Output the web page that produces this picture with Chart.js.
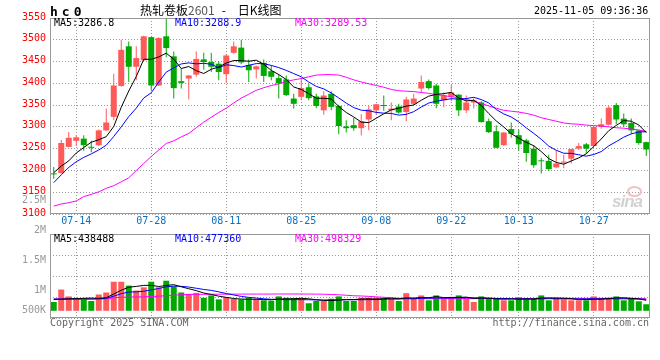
<!DOCTYPE html>
<html>
<head>
<meta charset="utf-8">
<script src="https://cdn.jsdelivr.net/npm/chart.js@4.4.0/dist/chart.umd.min.js"></script>
<style>
body { margin: 0; background: #fff; }
#box { position: relative; width: 660px; height: 360px; overflow: hidden;
       font-family: "DejaVu Sans Mono", monospace; font-size: 10px; line-height: 10px; }
#box canvas { position: absolute; left: 0; top: 0; }
.t { position: absolute; white-space: pre; }
.cn { font-family: "Noto Sans CJK SC", sans-serif; font-size: 12px; line-height: 12px; }
</style>
</head>
<body>
<div id="box">
  <canvas id="priceChart" width="660" height="360"></canvas>
  <canvas id="volumeChart" width="660" height="360"></canvas>

  <div class="t" style="left:50px;top:5px;font-weight:bold;font-size:13px;line-height:13px;letter-spacing:4px">hc0</div>
  <div class="t cn" style="left:140px;top:4px">热轧卷板<span style="color:#555">2601</span><span style="margin:0 12px 0 7px">-</span>日K线图</div>
  <div class="t" style="left:534px;top:6px">2025-11-05 09:36:36</div>

  <div class="t" style="left:54px;top:18px;color:#000">MA5:3286.8</div>
  <div class="t" style="left:175px;top:18px;color:#00f">MA10:3288.9</div>
  <div class="t" style="left:295px;top:18px;color:#f0f">MA30:3289.53</div>

  <div class="t" style="left:54px;top:234px;color:#000">MA5:438488</div>
  <div class="t" style="left:175px;top:234px;color:#00f">MA10:477360</div>
  <div class="t" style="left:295px;top:234px;color:#f0f">MA30:498329</div>

  <div style="position:absolute;left:627px;top:186px;width:11px;height:7px;border:2px solid #f2c2c2;border-radius:50%"></div>
  <div class="t" style="left:612px;top:195px;font:italic bold 17px 'Liberation Sans';line-height:14px;color:#d2d2d2;letter-spacing:-1px">sina</div>

  <div class="t" style="left:50px;top:318px;color:#666">Copyright 2025 SINA.COM</div>
  <div class="t" style="right:11px;top:318px;color:#666">http://finance.sina.com.cn</div>
</div>

<script>
// trading days shown on the chart
const dates = ['07-09','07-10','07-11','07-14','07-15','07-16','07-17','07-18','07-21','07-22','07-23','07-24','07-25','07-28','07-29','07-30','07-31',
    '08-01','08-04','08-05','08-06','08-07','08-08','08-11','08-12','08-13','08-14','08-15','08-18','08-19','08-20','08-21','08-22','08-25','08-26','08-27','08-28','08-29',
    '09-01','09-02','09-03','09-04','09-05','09-08','09-09','09-10','09-11','09-12','09-15','09-16','09-17','09-18','09-19','09-22','09-23','09-24','09-25','09-26','09-29','09-30',
    '10-09','10-10','10-13','10-14','10-15','10-16','10-17','10-20','10-21','10-22','10-23','10-24','10-27','10-28','10-29','10-30','10-31',
    '11-03','11-04','11-05'];
const tickDates = ['07-14','07-28','08-11','08-25','09-08','09-22','10-13','10-27'];

const opens = [3193,3194,3254,3268,3273,3254,3258,3292,3323,3394,
    3485,3438,3453,3506,3395,3508,3462,3405,3411,3420,
    3455,3449,3445,3421,3470,3482,3442,3432,3447,3428,
    3412,3409,3365,3369,3391,3370,3338,3376,3348,3301,
    3304,3297,3317,3338,3349,3338,3347,3334,3353,3388,
    3405,3395,3361,3369,3374,3338,3356,3356,3313,3290,
    3258,3295,3281,3269,3250,3223,3222,3207,3218,3227,
    3250,3260,3256,3300,3305,3350,3319,3309,3292,3265];
const highs = [3208,3270,3288,3281,3281,3268,3294,3342,3422,3500,
    3496,3485,3509,3507,3506,3548,3473,3434,3419,3473,
    3470,3470,3450,3466,3496,3500,3455,3441,3455,3441,
    3420,3418,3376,3411,3399,3376,3382,3382,3351,3315,
    3321,3329,3348,3353,3372,3356,3353,3369,3376,3418,
    3409,3399,3379,3397,3375,3372,3365,3359,3319,3304,
    3288,3310,3294,3273,3258,3229,3236,3247,3236,3250,
    3263,3263,3301,3319,3348,3355,3331,3319,3293,3266];
const lows = [3181,3193,3253,3256,3245,3242,3256,3291,3315,3392,
    3403,3407,3452,3384,3394,3460,3365,3388,3363,3415,
    3431,3426,3407,3401,3468,3444,3403,3411,3403,3407,
    3365,3371,3342,3361,3361,3343,3328,3338,3283,3287,
    3291,3280,3292,3328,3337,3315,3330,3313,3350,3379,
    3386,3343,3345,3359,3325,3332,3342,3310,3286,3251,
    3256,3275,3245,3220,3206,3193,3199,3205,3205,3216,
    3247,3239,3255,3296,3303,3306,3300,3283,3259,3233];
const closes = [3191,3263,3275,3276,3258,3252,3292,3310,3395,3477,
    3438,3458,3508,3395,3504,3481,3389,3401,3418,3456,
    3449,3438,3426,3464,3485,3448,3430,3439,3417,3415,
    3400,3373,3353,3389,3366,3348,3372,3346,3302,3297,
    3297,3313,3340,3352,3348,3342,3333,3363,3365,3403,
    3389,3353,3372,3379,3338,3356,3361,3311,3288,3252,
    3287,3284,3260,3240,3212,3221,3203,3216,3220,3249,
    3256,3250,3300,3306,3344,3317,3306,3292,3263,3248];

const ma5 = [3195,3210,3222,3240,3252.6,3264.8,3270.6,3277.6,3301,3345.2,
    3382.4,3415.6,3455.2,3455.2,3460.6,3469.2,3455.4,3434,3438.6,3429,
    3422.6,3432.4,3437.4,3446.6,3452.4,3452.2,3450.6,3453.2,3443.8,3429.8,
    3420.2,3408.8,3391.6,3386,3376.2,3365.8,3365.6,3364.2,3346.8,3333,
    3322.8,3311,3309.8,3319.8,3330,3339,3343,3347.6,3350.2,3361.2,
    3370.6,3374.6,3376.4,3379.2,3366.2,3359.6,3361.2,3349,3330.8,3313.6,
    3299.8,3284.4,3274.2,3264.6,3256.6,3243.4,3227.2,3218.4,3214.4,3221.8,
    3228.8,3238.2,3255,3272.2,3291.2,3303.4,3314.6,3313,3304.4,3286.8];
const ma10 = [3172,3190,3207,3220,3230,3238,3247,3258,3278,3300,
    3323.6,3343.1,3366.4,3378.3,3402.9,3425.8,3435.5,3444.6,3446.9,3444.8,
    3445.9,3443.9,3435.7,3442.6,3440.7,3437.4,3441.5,3445.3,3445.2,3441.1,
    3436.2,3429.7,3422.4,3414.9,3403,3393,3387.2,3377.9,3366.4,3354.6,
    3344.3,3338.3,3337,3333.3,3331.5,3330.9,3327,3328.7,3335,3345.6,
    3354.8,3358.8,3362,3364.7,3363.7,3365.1,3367.9,3362.7,3355,3339.9,
    3329.7,3322.8,3311.6,3297.7,3285.1,3271.6,3255.8,3246.3,3239.5,3239.2,
    3236.1,3232.7,3236.7,3243.3,3256.5,3266.1,3276.4,3284,3288.3,3288.9];
const ma30 = [3118,3123,3126,3130,3140,3145,3151,3159,3165,3174,
    3183,3200,3216,3232,3247,3262,3268,3277,3285,3298,
    3311,3322,3333,3343,3355,3366,3375,3384,3390,3395,
    3399,3404,3408,3411,3415,3419,3420,3420,3419,3414,
    3408,3403,3399,3395,3391,3386,3383,3382,3381,3379,
    3377,3374,3372,3369,3367,3363,3359,3354,3348,3343,
    3338,3336,3334,3331,3327,3321,3317,3313,3309,3307,
    3306,3304,3303,3302,3300,3298,3297,3295,3293,3289.53];

const volumes = [367000,885000,600000,518000,477000,408000,681000,763000,1212000,1212000,
    1049000,845000,979000,1212000,979000,1253000,1020000,763000,706000,747000,
    543000,641000,477000,571000,490000,477000,543000,477000,437000,420000,
    600000,543000,518000,518000,314000,408000,408000,502000,600000,408000,
    408000,543000,543000,543000,502000,502000,408000,734000,502000,641000,
    437000,641000,530000,543000,641000,502000,367000,600000,502000,502000,
    437000,437000,559000,518000,518000,641000,437000,543000,477000,437000,
    437000,437000,600000,518000,543000,600000,437000,502000,396000,273000];
const volMa5 = [470000,480000,500000,505000,520000,530000,520000,545000,700000,855000,
    983000,1016000,1059000,1059000,1013000,1054000,1089000,1000000,920000,840000,
    740000,680000,610000,560000,510000,490000,480000,480000,470000,460000,
    495000,495000,504000,520000,499000,460000,433000,430000,446000,465000,
    465000,492000,500000,489000,508000,527000,500000,538000,530000,557000,
    544000,591000,550000,558000,558000,571000,517000,531000,522000,495000,
    482000,496000,487000,491000,494000,535000,535000,531000,523000,507000,
    466000,466000,478000,486000,507000,540000,540000,520000,496000,438488];
const volMa10 = [490000,492000,494000,494000,492000,492000,500000,525000,610000,712000,
    781000,790000,814000,870000,930000,1000000,1030000,1020000,990000,940000,
    890000,850000,790000,720000,660000,600000,560000,530000,500000,480000,
    470000,465000,465000,465000,460000,455000,450000,450000,460000,465000,
    463000,463000,465000,468000,480000,490000,490000,505000,500000,520000,
    525000,535000,535000,535000,545000,545000,540000,530000,530000,515000,
    515000,500000,500000,500000,490000,500000,505000,500000,500000,495000,
    495000,495000,500000,500000,500000,500000,500000,495000,488000,477360];
const volMa30 = [490000,490000,490000,490000,490000,490000,490000,495000,540000,565000,
    572000,578000,585000,595000,610000,630000,650000,668000,680000,684000,
    688000,690000,692000,694000,695000,696000,697000,697000,697000,698000,
    700000,700000,700000,700000,698000,695000,690000,680000,668000,648000,
    627000,617000,602000,580000,564000,539000,519000,518000,511000,507000,
    504000,504000,506000,505000,510000,511000,505000,509000,511000,514000,
    508000,505000,506000,506000,513000,521000,522000,523000,519000,520000,
    521000,517000,519000,518000,520000,523000,524000,516000,513000,498329];

// volume axis labels, as printed by the original (the bottom one is pinned inside the panel)
const volumeTickLabels = ['2.5M', '2M', '1.5M', '1M', '500K'];
const volumeTickValues = [2500000, 2000000, 1500000, 1000000, 667000];

const UP = '#ff5a5a';
const DOWN = '#00a800';
const GRID = '#999999';
const MONO = 'DejaVu Sans Mono';

function whenDocumentLoaded(action) {
    if (document.readyState === "loading") {
        document.addEventListener("DOMContentLoaded", action);
    } else {
        action();
    }
}

function candleColors() {
    return closes.map((c, i) => c >= opens[i] ? UP : DOWN);
}

function dateGridColor(ctx) {
    return tickDates.includes(dates[ctx.index]) ? GRID : 'transparent';
}

function maLine(label, data, color) {
    return {
        type: 'line',
        label: label,
        data: data,
        borderColor: color,
        borderWidth: 1,
        pointRadius: 0,
        pointHitRadius: 0,
        tension: 0,
        fill: false
    };
}

// grey box round each panel
const framePlugin = {
    id: 'frame',
    afterDraw(chart) {
        const {ctx, chartArea} = chart;
        ctx.save();
        ctx.strokeStyle = '#999';
        ctx.lineWidth = 1;
        ctx.strokeRect(chartArea.left + 0.5, chartArea.top + 0.5,
            chartArea.right - chartArea.left - 1, chartArea.bottom - chartArea.top - 1);
        ctx.restore();
    }
};

function drawPriceChart() {
    const colors = candleColors();

    new Chart(document.getElementById('priceChart'), {
        type: 'bar',
        data: {
            labels: dates,
            datasets: [
                maLine('MA5', ma5, '#000000'),
                maLine('MA10', ma10, '#0000ff'),
                maLine('MA30', ma30, '#ff00ff'),
                {
                    label: 'body',
                    data: opens.map((o, i) => [o, closes[i]]),
                    backgroundColor: colors,
                    barThickness: 6,
                    minBarLength: 1,
                    grouped: false,
                    borderWidth: 0,
                    inflateAmount: 0
                },
                {
                    label: 'wick',
                    data: lows.map((l, i) => [l, highs[i]]),
                    backgroundColor: colors,
                    barThickness: 1,
                    grouped: false,
                    borderWidth: 0,
                    inflateAmount: 0
                }
            ]
        },
        options: {
            responsive: false,
            animation: false,
            layout: { padding: { left: 0, top: 18, right: 10, bottom: 128 } },
            plugins: { legend: { display: false }, tooltip: { enabled: false } },
            scales: {
                x: {
                    offset: true,
                    grid: { offset: false, color: dateGridColor, drawTicks: false },
                    border: { display: false, dash: [1, 2] },
                    ticks: {
                        autoSkip: false, maxRotation: 0, minRotation: 0, padding: 1,
                        color: '#0a70c0', font: { family: MONO, size: 10 },
                        callback: (v, i) => tickDates.includes(dates[i]) ? dates[i] : ''
                    },
                    afterFit: (s) => { s.height = 18; }
                },
                y: {
                    min: 3100,
                    max: 3550,
                    ticks: { stepSize: 50, color: '#ff0000', padding: 4, labelOffset: -1,
                             font: { family: MONO, size: 10 },
                             callback: (v) => String(v) },
                    grid: { color: GRID, drawTicks: false },
                    border: { display: false, dash: [1, 2] },
                    afterFit: (s) => { s.width = 50; }
                }
            }
        },
        plugins: [framePlugin]
    });
}

function drawVolumeChart() {
    const colors = candleColors();

    new Chart(document.getElementById('volumeChart'), {
        type: 'bar',
        data: {
            labels: dates,
            datasets: [
                maLine('MA5', volMa5, '#000000'),
                maLine('MA10', volMa10, '#0000ff'),
                maLine('MA30', volMa30, '#ff00ff'),
                {
                    label: 'volume',
                    data: volumes,
                    backgroundColor: colors,
                    barThickness: 6,
                    borderWidth: 0,
                    inflateAmount: 0
                }
            ]
        },
        options: {
            responsive: false,
            animation: false,
            layout: { padding: { left: 0, top: 234, right: 10, bottom: 42 } },
            plugins: { legend: { display: false }, tooltip: { enabled: false } },
            scales: {
                x: {
                    offset: true,
                    grid: { offset: false, color: dateGridColor, drawTicks: false },
                    border: { display: false, dash: [1, 2] },
                    ticks: { display: false },
                    afterFit: (s) => { s.height = 0; }
                },
                y: {
                    min: -300000,
                    max: 3200000,
                    ticks: { display: false, count: 5 },
                    grid: { color: GRID, drawTicks: false },
                    border: { display: false, dash: [1, 2] },
                    afterFit: (s) => { s.width = 0; }
                },
                yl: {
                    type: 'linear',
                    position: 'left',
                    min: 538000,
                    max: 1938000,
                    grid: { display: false, drawTicks: false },
                    border: { display: false },
                    afterBuildTicks: (s) => { s.ticks = volumeTickValues.map(v => ({ value: v })); },
                    ticks: {
                        autoSkip: false, color: '#999999', padding: 4,
                        font: { family: MONO, size: 10 },
                        callback: (v, i) => volumeTickLabels[i]
                    },
                    afterFit: (s) => { s.width = 50; }
                }
            }
        },
        plugins: [framePlugin]
    });
}

whenDocumentLoaded(() => {
    drawPriceChart();
    drawVolumeChart();
});
</script>
</body>
</html>
